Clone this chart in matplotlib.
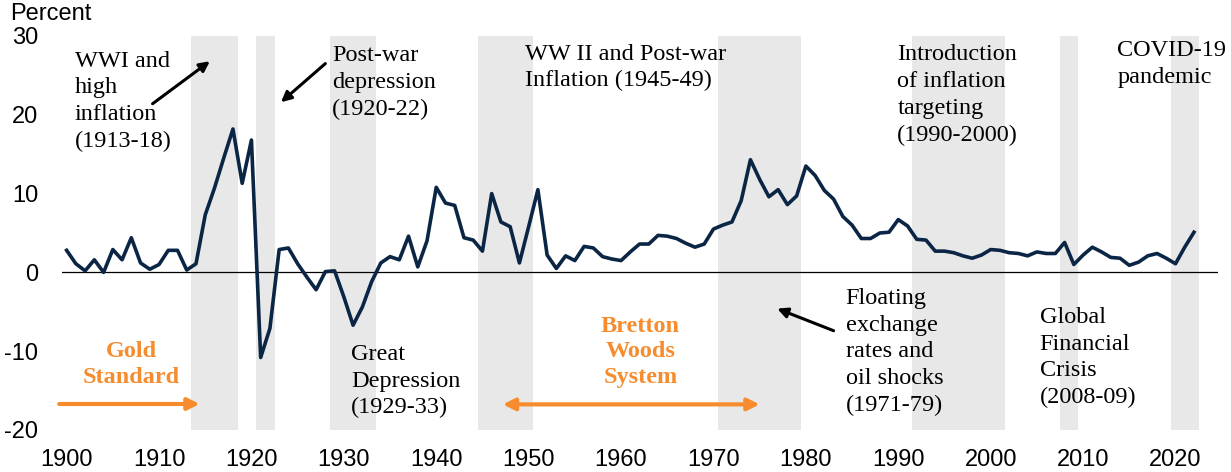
import matplotlib.pyplot as plt
import numpy as np

# annual inflation, percent
years = list(range(1900, 2023))
inflation = [
    2.8, 1.1, 0.2, 1.6, 0.0, 2.9, 1.6, 4.4, 1.2, 0.4,      # 1900s
    1.0, 2.8, 2.8, 0.3, 1.1, 7.3, 10.7, 14.5, 18.2, 11.3,  # 1910s
    16.8, -10.8, -7.1, 2.9, 3.1, 1.1, -0.6, -2.2, 0.1, 0.2,  # 1920s
    -3.1, -6.7, -4.4, -1.2, 1.2, 2.0, 1.6, 4.6, 0.7, 4.0,  # 1930s
    10.8, 8.8, 8.5, 4.4, 4.1, 2.7, 10.0, 6.4, 5.8, 1.2,    # 1940s
    5.8, 10.5, 2.2, 0.5, 2.1, 1.5, 3.3, 3.1, 2.0, 1.7,     # 1950s
    1.5, 2.6, 3.6, 3.6, 4.7, 4.6, 4.3, 3.7, 3.2, 3.6,      # 1960s
    5.5, 6.0, 6.4, 9.1, 14.3, 11.8, 9.6, 10.5, 8.6, 9.7,   # 1970s
    13.5, 12.3, 10.4, 9.3, 7.1, 6.0, 4.3, 4.3, 5.0, 5.1,   # 1980s
    6.7, 5.9, 4.2, 4.1, 2.7, 2.7, 2.5, 2.1, 1.8, 2.2,      # 1990s
    2.9, 2.8, 2.5, 2.4, 2.1, 2.6, 2.4, 2.4, 3.8, 1.0,      # 2000s
    2.2, 3.2, 2.6, 1.9, 1.8, 0.9, 1.3, 2.1, 2.4, 1.8,      # 2010s
    1.1, 3.2, 5.1,                                         # 2020s
]

# shaded episodes (start year, end year)
episodes = [(1914, 1918), (1921, 1922), (1929, 1933), (1945, 1950),
            (1971, 1979), (1992, 2001), (2008, 2009), (2020, 2022)]

tick_years = list(range(1900, 2021, 10))
y_ticks = [-20, -10, 0, 10, 20, 30]

navy = '#0B2545'
orange = '#F68C2E'
band = '#E8E8E8'
serif = 'Liberation Serif'
sans = 'Liberation Sans'

fig = plt.figure(figsize=(12.31, 4.72), dpi=100)
ax = fig.add_axes([62 / 1231, 42 / 472, 1156 / 1231, 394 / 472])

for start, end in episodes:
    ax.axvspan(start - 0.5, end + 0.5, color=band, lw=0, zorder=0)

ax.axhline(0, color='black', lw=0.9, zorder=1)
ax.plot(years, inflation, color=navy, lw=2.6, zorder=3)

ax.set_xlim(1899.5, 2024.6)
ax.set_ylim(-20, 30)
ax.set_xticks(tick_years)
ax.set_xticklabels([str(y) for y in tick_years], family=sans, fontsize=17)
ax.set_yticks(y_ticks)
ax.set_yticklabels([str(v) for v in y_ticks], family=sans, fontsize=17)
ax.tick_params(axis='x', length=0, pad=14)
ax.tick_params(axis='y', length=0, pad=17)
for s in ax.spines.values():
    s.set_visible(False)

fig.text(10 / 1231, 1 - 14 / 472, 'Percent', family=sans, fontsize=17,
         ha='left', va='center')

# episode notes
notes = [
    (1900.9, 21.7, 'WWI and\nhigh\ninflation\n(1913-18)'),
    (1928.7, 24.1, 'Post-war\ndepression\n(1920-22)'),
    (1949.6, 26.0, 'WW II and Post-war\nInflation (1945-49)'),
    (1989.9, 22.5, 'Introduction\nof inflation\ntargeting\n(1990-2000)'),
    (2013.7, 26.4, 'COVID-19\npandemic'),
    (1930.8, -13.8, 'Great\nDepression\n(1929-33)'),
    (1984.3, -10.1, 'Floating\nexchange\nrates and\noil shocks\n(1971-79)'),
    (2005.3, -10.8, 'Global\nFinancial\nCrisis\n(2008-09)'),
]
for x, y, txt in notes:
    ax.text(x, y, txt, family=serif, fontsize=17.5, ha='left', va='center',
            linespacing=1.36, zorder=4)

black_arrow = dict(arrowstyle='-|>,head_length=0.6,head_width=0.3', color='black', lw=2.2,
                   shrinkA=0, shrinkB=0)
ax.annotate('', xy=(1915.5, 26.8), xytext=(1909.3, 21.4), arrowprops=black_arrow)
ax.annotate('', xy=(1923.2, 21.6), xytext=(1928.0, 26.5), arrowprops=black_arrow)
ax.annotate('', xy=(1976.9, -4.6), xytext=(1983.0, -7.4), arrowprops=black_arrow)

# monetary regimes
ax.text(1907.0, -11.7, 'Gold\nStandard', family=serif, fontsize=17.5, fontweight='bold',
        color=orange, ha='center', va='center', linespacing=1.3)
ax.text(1962.1, -10.1, 'Bretton\nWoods\nSystem', family=serif, fontsize=17.5,
        fontweight='bold', color=orange, ha='center', va='center', linespacing=1.3)

orange_arrow = dict(arrowstyle='-|>,head_length=0.7,head_width=0.35', color=orange, lw=3,
                    shrinkA=0, shrinkB=0)
ax.annotate('', xy=(1914.4, -16.7), xytext=(1899.2, -16.7), arrowprops=orange_arrow,
            annotation_clip=False)
both_arrow = dict(arrowstyle='<|-|>,head_length=0.7,head_width=0.35', color=orange, lw=3,
                  shrinkA=0, shrinkB=0)
ax.annotate('', xy=(1975.0, -16.75), xytext=(1947.2, -16.75), arrowprops=both_arrow)

plt.savefig('out.png', dpi=100)
